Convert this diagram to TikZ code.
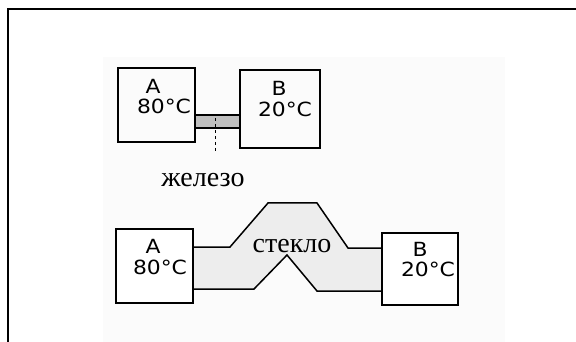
\documentclass[tikz,border=0pt]{standalone}
\usepackage{fontspec}
\setmainfont{Liberation Serif}
\newfontfamily\boxfont[FakeStretch=1.12]{DejaVu Sans}
\begin{document}
\begin{tikzpicture}[x=1pt,y=-1pt,
  boxnode/.style={draw=black,line width=1.5pt,minimum width=#1,inner sep=0pt},
  lab/.style={font=\boxfont\fontsize{19.5}{22}\selectfont,inner sep=0pt},
  captext/.style={font=\fontsize{28}{30}\selectfont,inner sep=0pt},
  ]
\useasboundingbox (0,0) rectangle (576,342);
\fill[black!1.5] (103,57) rectangle (505,342);
\draw[line width=2pt] (8,342) -- (8,9) -- (576,9);
% top pair
\node[boxnode=77pt,minimum height=74pt] (A1) at (156.5,105) {};
\node[boxnode=80pt,minimum height=78pt] (B1) at (280,109) {};
\coordinate (r1) at (195,115);
\coordinate (r2) at (240,128);
\draw[fill=black!25,line width=1.2pt] (r1) rectangle (r2);
\draw[dashed,line width=1pt] (215,118) -- (215,152);
\node[lab] (A1a) at (153,86) {А};
\node[lab] (A1t) at (164,106) {80°C};
\node[lab] (B1a) at (279,88) {В};
\node[lab] (B1t) at (285,109) {20°C};
\node[captext] (iron) at (203,180) {железо};
% bottom pair
\fill[black!7] (193,247) -- (230,247) -- (268,203) -- (317,203) -- (348,248) -- (382,248)
  -- (382,291) -- (317,291) -- (287,255) -- (254,289) -- (193,289) -- cycle;
\draw[line width=1.5pt] (193,247) -- (230,247) -- (268,203) -- (317,203) -- (348,248) -- (382,248);
\draw[line width=1.5pt] (382,291) -- (317,291) -- (287,255) -- (254,289) -- (193,289);
\node[boxnode=77pt,minimum height=74pt,fill=white] (A2) at (154.5,266) {};
\node[boxnode=76pt,minimum height=72pt,fill=white] (B2) at (420,269) {};
\node[lab] (A2a) at (153,246) {А};
\node[lab] (A2t) at (160,267) {80°C};
\node[lab] (B2a) at (420,249) {В};
\node[lab] (B2t) at (428,269) {20°C};
\node[captext] (glass) at (292,246) {стекло};
\end{tikzpicture}
\end{document}
